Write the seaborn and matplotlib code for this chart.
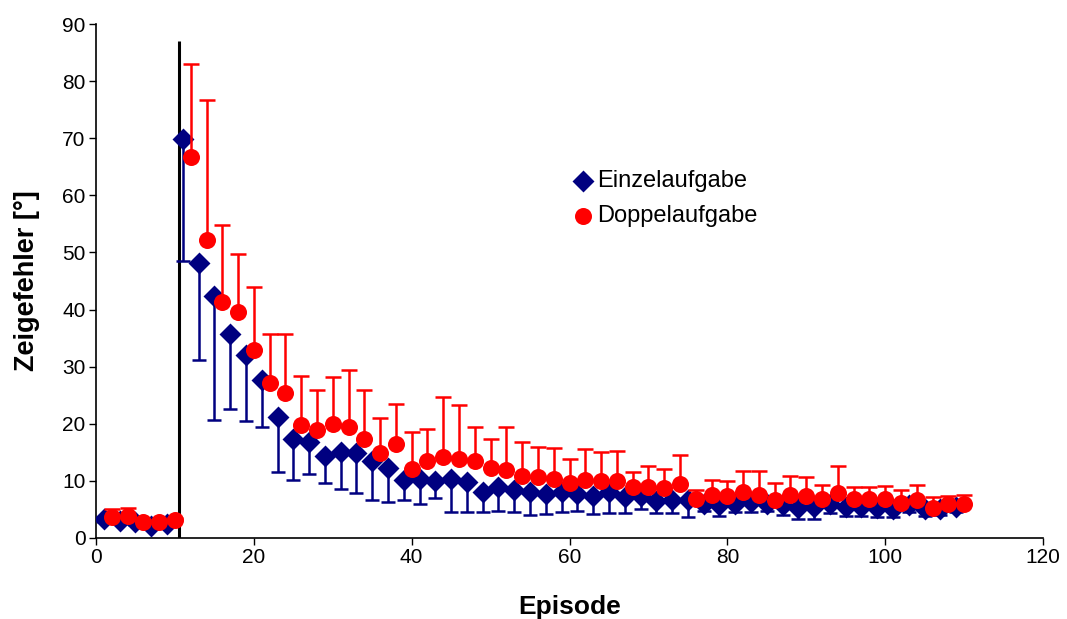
import numpy as np
import pandas as pd
import matplotlib
matplotlib.use("Agg")
import matplotlib.pyplot as plt
import seaborn as sns

# Episodes: single task on odd episodes, dual task on even episodes
episodes_einzel = list(range(1, 110, 2))
episodes_doppel = list(range(2, 111, 2))

einzel_mean = [3.3, 2.9, 2.8, 2.0, 2.4, 69.8, 48.1, 42.4, 35.7, 32.0,
               27.7, 21.2, 17.3, 16.8, 14.4, 15.1, 14.9, 13.4, 12.2, 10.2,
               10.4, 9.9, 10.4, 9.8, 8.0, 8.9, 8.4, 8.1, 7.7, 8.1,
               7.7, 7.4, 8.1, 7.2, 7.4, 6.4, 6.7, 6.6, 6.0, 5.7,
               6.0, 6.3, 6.0, 5.8, 5.3, 5.5, 5.9, 5.5, 5.4, 5.3,
               5.0, 5.7, 5.0, 5.0, 5.4]
einzel_sd = [0.5, 0.5, 0.5, 0.4, 0.4, 21.3, 16.9, 21.7, 13.2, 11.5,
             8.2, 9.7, 7.1, 5.6, 4.8, 6.5, 7.0, 6.7, 5.9, 3.5,
             4.4, 2.9, 5.9, 5.3, 3.5, 4.1, 3.9, 4.1, 3.5, 3.5,
             3.0, 3.2, 3.7, 2.9, 2.4, 2.0, 2.3, 3.0, 1.3, 1.8,
             1.4, 1.7, 1.3, 1.7, 2.0, 2.1, 1.6, 1.6, 1.6, 1.7,
             1.4, 1.1, 1.1, 1.0, 0.8]

doppel_mean = [3.6, 3.9, 2.8, 2.8, 3.1, 66.7, 52.2, 41.4, 39.6, 32.9,
               27.1, 25.3, 19.8, 18.9, 19.9, 19.4, 17.3, 14.8, 16.4, 12.1,
               13.5, 14.2, 13.8, 13.4, 12.2, 11.9, 10.9, 10.7, 10.4, 9.7,
               10.2, 10.0, 9.9, 8.9, 8.9, 8.7, 9.4, 6.9, 7.5, 7.4,
               8.1, 7.6, 6.7, 7.5, 7.4, 6.8, 7.9, 6.8, 6.8, 6.8,
               6.1, 6.7, 5.2, 5.9, 5.9]
doppel_sd = [1.4, 1.4, 0.3, 0.3, 0.4, 16.3, 24.5, 13.4, 10.2, 11.0,
             8.6, 10.4, 8.6, 7.0, 8.3, 10.1, 8.6, 6.2, 7.1, 6.5,
             5.6, 10.5, 9.5, 6.0, 5.1, 7.6, 5.9, 5.3, 5.3, 4.1,
             5.3, 5.1, 5.4, 2.7, 3.7, 3.3, 5.1, 1.5, 2.7, 2.6,
             3.6, 4.1, 2.9, 3.4, 3.2, 2.5, 4.7, 2.1, 2.2, 2.3,
             2.3, 2.5, 1.9, 1.5, 1.6]

perturbation_episode = 10.5
perturbation_top = 87

x_ticks = [0, 20, 40, 60, 80, 100, 120]
y_ticks = [0, 10, 20, 30, 40, 50, 60, 70, 80, 90]

navy = "#000080"
red = "#FF0000"

sns.set_theme(style="white")
plt.rcParams["font.family"] = ["Liberation Sans", "DejaVu Sans"]
plt.rcParams["text.color"] = "black"
plt.rcParams["axes.labelcolor"] = "black"
plt.rcParams["xtick.color"] = "black"
plt.rcParams["ytick.color"] = "black"

df = pd.concat([
    pd.DataFrame({"Episode": episodes_einzel, "Fehler": einzel_mean,
                  "SD": einzel_sd, "Aufgabe": "Einzelaufgabe"}),
    pd.DataFrame({"Episode": episodes_doppel, "Fehler": doppel_mean,
                  "SD": doppel_sd, "Aufgabe": "Doppelaufgabe"}),
], ignore_index=True)

fig = plt.figure(figsize=(10.67, 6.19), dpi=100)
ax = fig.add_axes([0.090, 0.131, 0.8875, 0.830])

# Perturbation onset
ax.vlines(perturbation_episode, 0, perturbation_top, color="black", linewidth=2.2, zorder=1)

# Error bars: single task downward, dual task upward
ein = df[df["Aufgabe"] == "Einzelaufgabe"]
dop = df[df["Aufgabe"] == "Doppelaufgabe"]
ax.errorbar(ein["Episode"], ein["Fehler"], yerr=[ein["SD"], np.zeros(len(ein))],
            fmt="none", ecolor=navy, elinewidth=1.8, capsize=5.2, capthick=1.8, zorder=2)
sns.scatterplot(data=ein, x="Episode", y="Fehler", marker="D", color=navy,
                s=125, edgecolor=navy, linewidth=0, ax=ax, zorder=3, label="Einzelaufgabe")
ax.errorbar(dop["Episode"], dop["Fehler"], yerr=[np.zeros(len(dop)), dop["SD"]],
            fmt="none", ecolor=red, elinewidth=1.8, capsize=5.6, capthick=1.8, zorder=4)
sns.scatterplot(data=dop, x="Episode", y="Fehler", marker="o", color=red,
                s=150, edgecolor=red, linewidth=0, ax=ax, zorder=5, label="Doppelaufgabe")

ax.set_xlim(0, 120)
ax.set_ylim(0, 90)
ax.set_xticks(x_ticks)
ax.set_yticks(y_ticks)
ax.tick_params(axis="both", which="major", direction="out", length=5, width=1,
               color="black", labelsize=15, labelcolor="black",
               bottom=True, left=True, pad=2.5)
for side in ["top", "right"]:
    ax.spines[side].set_visible(False)
for side in ["left", "bottom"]:
    ax.spines[side].set_color("black")
    ax.spines[side].set_linewidth(1.2)

ax.set_xlabel("Episode", fontsize=19, fontweight="bold", labelpad=20)
ax.set_ylabel("Zeigefehler [°]", fontsize=19.5, fontweight="bold", labelpad=16)

ax.legend(loc="upper left", bbox_to_anchor=(0.492, 0.735), frameon=False,
          fontsize=17, handlelength=1.0, handletextpad=0.1, labelspacing=0.58,
          borderaxespad=0, markerscale=1.0)

fig.savefig("out.png", dpi=100)
